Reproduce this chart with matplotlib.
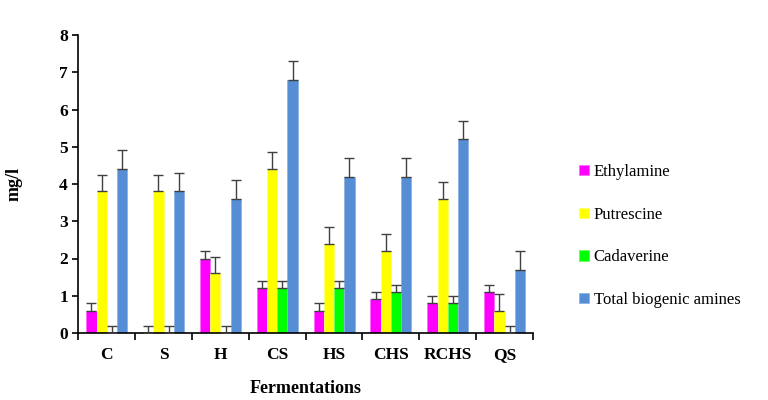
import numpy as np
import matplotlib
matplotlib.use('Agg')
import matplotlib.pyplot as plt
from matplotlib.ticker import FixedLocator

plt.rcParams['font.family'] = 'Liberation Serif'

fermentations = ['C', 'S', 'H', 'CS', 'HS', 'CHS', 'RCHS', 'QS']
series_names = ['Ethylamine', 'Putrescine', 'Cadaverine', 'Total biogenic amines']
ethylamine = [0.6, 0.0, 2.0, 1.2, 0.6, 0.9, 0.8, 1.1]
putrescine = [3.8, 3.8, 1.6, 4.4, 2.4, 2.2, 3.6, 0.6]
cadaverine = [0.0, 0.0, 0.0, 1.2, 1.2, 1.1, 0.8, 0.0]
total_ba = [4.4, 3.8, 3.6, 6.8, 4.2, 4.2, 5.2, 1.7]
err_eth = [0.2, 0.2, 0.2, 0.2, 0.2, 0.2, 0.2, 0.2]
err_put = [0.45, 0.45, 0.45, 0.45, 0.45, 0.45, 0.45, 0.45]
err_cad = [0.2, 0.2, 0.2, 0.2, 0.2, 0.2, 0.2, 0.2]
err_tot = [0.5, 0.5, 0.5, 0.5, 0.5, 0.5, 0.5, 0.5]

colors = ['#ff00ff', '#ffff00', '#00ff00', '#558ed5']
edges = ['#ff66ff', '#ffff66', '#66ff66', '#8db3e2']

fig = plt.figure(figsize=(7.68, 4.0), dpi=100)
ax = fig.add_axes([0.102, 0.1675, 0.592, 0.745])

x = np.arange(len(fermentations))
w = 0.18
data = [ethylamine, putrescine, cadaverine, total_ba]
errs = [err_eth, err_put, err_cad, err_tot]
for i in range(4):
    pos = x + (i - 1.5) * w
    ax.bar(pos, data[i], w, color=colors[i], edgecolor=edges[i], linewidth=0.6,
           label=series_names[i], zorder=2)
    ax.errorbar(pos, data[i], yerr=[np.zeros(len(x)), errs[i]], fmt='none',
                ecolor='#404040', elinewidth=1.0, capsize=3.5, capthick=1.0, zorder=3)

ax.set_xlim(-0.5, len(fermentations) - 0.5)
ax.set_ylim(0, 8)
ax.set_yticks(range(0, 9))
ax.set_xticks(x)
ax.set_xticklabels(fermentations, fontweight='bold', fontsize=12.5)
ax.tick_params(axis='x', length=0, pad=10)
ax.xaxis.set_minor_locator(FixedLocator(np.arange(-0.5, len(x), 1.0)))
ax.tick_params(axis='x', which='minor', length=5, width=1.2, direction='out')
ax.tick_params(axis='y', length=4, width=1.2, direction='out', labelsize=12.5)
for lab in ax.get_yticklabels():
    lab.set_fontweight('bold')

ax.spines['top'].set_visible(False)
ax.spines['right'].set_visible(False)
ax.spines['left'].set_linewidth(1.2)
ax.spines['bottom'].set_linewidth(1.2)

ax.set_ylabel('mg/l', fontweight='bold', fontsize=13, labelpad=26)
ax.set_xlabel('Fermentations', fontweight='bold', fontsize=13, labelpad=12)

handles, labels = ax.get_legend_handles_labels()
fig.legend(handles, labels, loc='center left', bbox_to_anchor=(0.734, 0.41),
           frameon=False, fontsize=12, handlelength=0.6, handleheight=0.6,
           handletextpad=0.3, labelspacing=1.6)

fig.savefig('out.png', dpi=100)
